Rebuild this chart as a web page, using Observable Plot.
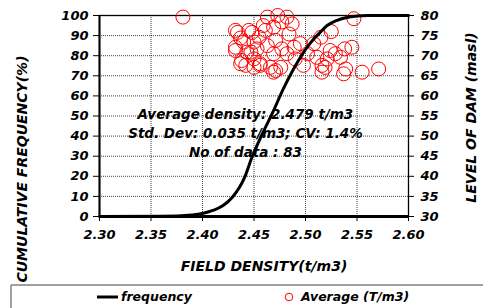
<!DOCTYPE html>
<html><head><meta charset="utf-8">
<script src="https://cdn.jsdelivr.net/npm/d3@7"></script>
<script src="https://cdn.jsdelivr.net/npm/@observablehq/plot@0.6"></script>
<style>
body{margin:0;background:#fff;width:483px;height:308px;overflow:hidden;position:relative;}
#chart svg{display:block;overflow:visible;}
#legend{position:absolute;left:0;top:284px;}
</style></head><body><div id="chart"></div><svg id="legend" width="483" height="24"></svg>
<script>
// Cumulative frequency curve
const freqDensity = [2.30, 2.36, 2.39, 2.40, 2.41, 2.42, 2.429, 2.441, 2.448, 2.458, 2.469, 2.478, 2.488, 2.496, 2.505, 2.514, 2.521, 2.530, 2.540, 2.550, 2.560, 2.60];
const freqPercent = [0, 0.1, 0.8, 1.5, 3, 5.5, 9.6, 19.6, 29.5, 41, 52.7, 63, 73, 80, 86.5, 91.5, 95, 97.5, 99, 99.7, 100, 100];

// Average density vs level of dam
const avgDensity = [2.381,
  2.547,2.525,2.545,2.538,2.529,2.524,2.534,2.521,2.539,2.555,2.571,2.537,2.519,2.516,
  2.434,2.432,2.440,2.438,2.442,2.448,2.447,2.453,2.455,2.456,2.450,2.463,2.461,2.469,2.471,
  2.473,2.477,2.482,2.487,2.484,2.463,2.469,2.477,2.482,2.489,2.490,2.466,2.471,2.476,2.502,
  2.508,2.511,2.516,2.515,2.498,2.495,
  2.432,2.432,2.437,2.437,2.445,2.450,2.443,2.450,2.456,2.459,2.469];
const avgLevel = [79.6,
  79.2,76.0,72.1,71.7,70.5,71.3,69.6,69.2,66.7,65.9,66.7,65.5,67.1,65.9,
  75.8,71.3,73.4,68.8,67.6,75.8,70.9,71.7,74.6,68.0,67.1,79.6,76.3,77.1,73.8,
  80.0,78.4,79.6,77.9,75.4,72.5,70.5,71.7,70.5,72.1,69.2,67.1,66.3,67.1,70.5,
  73.0,69.6,67.6,74.6,67.6,73.0,
  76.3,72.1,68.0,74.4,76.3,73.4,70.9,69.2,67.6,77.5,65.9];

const xTicks = [2.30, 2.35, 2.40, 2.45, 2.50, 2.55, 2.60];
const yTicks = [0, 10, 20, 30, 40, 50, 60, 70, 80, 90, 100];
const levelTicks = [30, 35, 40, 45, 50, 55, 60, 65, 70, 75, 80];
const seriesNames = ["frequency", "Average (T/m3)"];
const annotation = ["Average density: 2.479 t/m3", "Std. Dev: 0.035 t/m3; CV: 1.4%", "No of data : 83"];
const xTitle = "FIELD DENSITY(t/m3)";
const yTitle = "CUMULATIVE FREQUENCY(%)";
const y2Title = "LEVEL OF DAM (masl)";

const levelMin = 30, levelMax = 80;
const toPct = l => (l - levelMin) / (levelMax - levelMin) * 100;
const fromPct = p => levelMin + p / 100 * (levelMax - levelMin);

const freq = freqDensity.map((d, i) => ({d, p: freqPercent[i]}));
const pts = avgDensity.map((d, i) => ({d, level: avgLevel[i]}));

const font = "'DejaVu Sans', sans-serif";

const chart = Plot.plot({
  width: 483, height: 285,
  marginTop: 15, marginBottom: 69, marginLeft: 99, marginRight: 75,
  style: {fontFamily: font, fontSize: "13px", fontWeight: "bold", fontStyle: "italic", background: "#fff", color: "#000"},
  x: {domain: [2.30, 2.60]},
  y: {domain: [0, 100]},
  marks: [
    Plot.gridX(xTicks.slice(1, -1), {stroke: "#000", strokeOpacity: 0.75, strokeDasharray: "1,1"}),
    Plot.gridY(yTicks.slice(1, -1), {stroke: "#000", strokeOpacity: 0.75, strokeDasharray: "1,1"}),
    Plot.frame({stroke: "#000", strokeWidth: 1.3}),
    Plot.ruleX([2.30], {stroke: "#000", strokeWidth: 2}),
    Plot.ruleY([0], {stroke: "#000", strokeWidth: 3}),
    Plot.axisX(xTicks, {anchor: "bottom", tickFormat: d3.format(".2f"), tickSize: 5, tickPadding: 8, label: null, stroke: "#000"}),
    Plot.axisY(yTicks, {anchor: "left", tickSize: 6, tickPadding: 5, label: null, stroke: "#000"}),
    Plot.axisY(levelTicks.map(toPct), {anchor: "right", tickFormat: p => String(Math.round(fromPct(p))), tickSize: 5, tickPadding: 7, label: null, stroke: "#000"}),
    Plot.dot(pts, {x: "d", y: d => toPct(d.level), r: 7, stroke: "#ff0000", strokeWidth: 1, fill: "none"}),
    Plot.line(freq, {x: "d", y: "p", stroke: "#000", strokeWidth: 3, curve: "monotone-x"}),
    Plot.text([annotation.join("\n")], {x: 2.4417, y: 51.7, text: d => d, lineAnchor: "middle", lineHeight: 1.4, fontSize: 13.5, fill: "#000", dy: 19}),
    Plot.text([xTitle], {frameAnchor: "bottom", text: d => d, dx: 10, dy: 54, fontSize: 14, fill: "#000"})
  ]
});
document.getElementById("chart").appendChild(chart);

// Rotated axis titles
const svg = d3.select(chart);
svg.append("text").attr("transform", "translate(22,169) rotate(-90)")
  .attr("text-anchor", "middle").attr("dy", "0.35em").attr("font-size", 14).attr("fill", "#000").text(yTitle);
svg.append("text").attr("transform", "translate(471,117.5) rotate(-90)")
  .attr("text-anchor", "middle").attr("dy", "0.35em").attr("font-size", 14).attr("fill", "#000").text(y2Title);

// Legend below the chart
const lg = d3.select("#legend");
lg.append("line").attr("x1", 11).attr("x2", 483).attr("y1", 1).attr("y2", 1).attr("stroke", "#808080").attr("stroke-width", 1.5);
lg.append("line").attr("x1", 11).attr("x2", 11).attr("y1", 1).attr("y2", 24).attr("stroke", "#808080").attr("stroke-width", 1.5);
lg.append("line").attr("x1", 97).attr("x2", 118).attr("y1", 13).attr("y2", 13).attr("stroke", "#000").attr("stroke-width", 3);
lg.append("text").attr("x", 121).attr("y", 13).attr("dy", "0.35em").text(seriesNames[0])
  .attr("font-family", font).attr("font-weight", "bold").attr("font-style", "italic").attr("font-size", 12.5);
lg.append("circle").attr("cx", 289).attr("cy", 13).attr("r", 3.8).attr("fill", "none").attr("stroke", "#ff0000").attr("stroke-width", 1);
lg.append("text").attr("x", 301).attr("y", 13).attr("dy", "0.35em").text(seriesNames[1])
  .attr("font-family", font).attr("font-weight", "bold").attr("font-style", "italic").attr("font-size", 12.5);
</script>
</body></html>
